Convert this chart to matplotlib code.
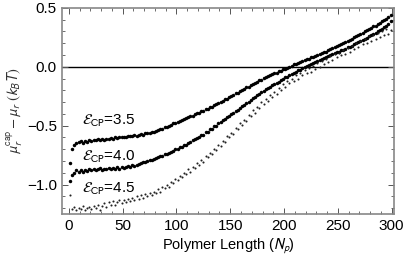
import matplotlib
matplotlib.use("Agg")
import matplotlib.pyplot as plt
from matplotlib.ticker import MultipleLocator

plt.rcParams['font.family'] = ['Liberation Sans', 'DejaVu Sans']
plt.rcParams['mathtext.fontset'] = 'stixsans'

# Polymer length (odd N from 1 to 299)
N = list(range(1, 300, 2))

eps35 = [
    -0.82, -0.70, -0.66, -0.65, -0.64,
    -0.63, -0.645, -0.63, -0.635, -0.625,
    -0.63, -0.62, -0.625, -0.615, -0.62,
    -0.615, -0.62, -0.61, -0.615, -0.605,
    -0.61, -0.60, -0.605, -0.595, -0.60,
    -0.595, -0.60, -0.59, -0.585, -0.59,
    -0.58, -0.585, -0.575, -0.57, -0.575,
    -0.565, -0.56, -0.565, -0.55, -0.555,
    -0.545, -0.54, -0.53, -0.525, -0.515,
    -0.51, -0.50, -0.495, -0.48, -0.48,
    -0.465, -0.46, -0.455, -0.44, -0.435,
    -0.43, -0.42, -0.415, -0.40, -0.395,
    -0.39, -0.375, -0.375, -0.36, -0.355,
    -0.345, -0.34, -0.325, -0.32, -0.305,
    -0.30, -0.29, -0.275, -0.27, -0.255,
    -0.245, -0.24, -0.225, -0.22, -0.205,
    -0.195, -0.19, -0.175, -0.17, -0.155,
    -0.15, -0.135, -0.13, -0.115, -0.11,
    -0.095, -0.09, -0.08, -0.07, -0.065,
    -0.055, -0.05, -0.035, -0.035, -0.02,
    -0.015, -0.01, 0.00, 0.005, 0.02,
    0.02, 0.035, 0.04, 0.05, 0.055,
    0.065, 0.07, 0.08, 0.085, 0.095,
    0.10, 0.11, 0.115, 0.125, 0.13,
    0.14, 0.15, 0.16, 0.165, 0.18,
    0.185, 0.195, 0.20, 0.215, 0.22,
    0.23, 0.24, 0.25, 0.26, 0.27,
    0.28, 0.29, 0.30, 0.31, 0.32,
    0.33, 0.345, 0.35, 0.365, 0.375,
    0.385, 0.395, 0.41, 0.42, 0.44,
]

eps40 = [
    -0.97, -0.92, -0.90, -0.88, -0.895,
    -0.88, -0.89, -0.875, -0.885, -0.87,
    -0.88, -0.865, -0.875, -0.87, -0.86,
    -0.875, -0.865, -0.87, -0.86, -0.87,
    -0.86, -0.865, -0.855, -0.865, -0.85,
    -0.86, -0.85, -0.845, -0.85, -0.835,
    -0.84, -0.83, -0.825, -0.82, -0.81,
    -0.81, -0.80, -0.795, -0.79, -0.78,
    -0.775, -0.77, -0.76, -0.755, -0.74,
    -0.74, -0.73, -0.72, -0.715, -0.70,
    -0.70, -0.685, -0.68, -0.665, -0.66,
    -0.645, -0.64, -0.625, -0.615, -0.605,
    -0.595, -0.58, -0.575, -0.555, -0.55,
    -0.53, -0.525, -0.505, -0.50, -0.48,
    -0.47, -0.455, -0.445, -0.43, -0.42,
    -0.40, -0.395, -0.375, -0.365, -0.35,
    -0.335, -0.325, -0.31, -0.295, -0.285,
    -0.265, -0.26, -0.24, -0.23, -0.215,
    -0.205, -0.19, -0.18, -0.17, -0.155,
    -0.145, -0.135, -0.125, -0.11, -0.105,
    -0.09, -0.085, -0.07, -0.06, -0.055,
    -0.04, -0.03, -0.025, -0.01, -0.005,
    0.01, 0.015, 0.025, 0.03, 0.045,
    0.05, 0.06, 0.065, 0.075, 0.085,
    0.09, 0.10, 0.105, 0.115, 0.125,
    0.13, 0.14, 0.145, 0.155, 0.165,
    0.17, 0.18, 0.19, 0.20, 0.21,
    0.22, 0.225, 0.24, 0.245, 0.26,
    0.27, 0.28, 0.29, 0.30, 0.315,
    0.325, 0.335, 0.35, 0.36, 0.39,
]

eps45 = [
    -1.09, -1.21, -1.19, -1.22, -1.20,
    -1.21, -1.18, -1.22, -1.20, -1.19,
    -1.21, -1.18, -1.20, -1.17, -1.22,
    -1.18, -1.16, -1.19, -1.15, -1.17,
    -1.14, -1.17, -1.15, -1.13, -1.16,
    -1.13, -1.15, -1.12, -1.14, -1.11,
    -1.13, -1.10, -1.12, -1.09, -1.11,
    -1.08, -1.10, -1.07, -1.09, -1.06,
    -1.07, -1.04, -1.06, -1.02, -1.03,
    -1.00, -1.02, -0.98, -0.99, -0.95,
    -0.96, -0.93, -0.94, -0.90, -0.91,
    -0.87, -0.89, -0.85, -0.86, -0.82,
    -0.83, -0.79, -0.81, -0.76, -0.77,
    -0.73, -0.74, -0.70, -0.71, -0.66,
    -0.67, -0.63, -0.64, -0.59, -0.60,
    -0.56, -0.57, -0.52, -0.53, -0.48,
    -0.49, -0.45, -0.46, -0.41, -0.42,
    -0.37, -0.39, -0.34, -0.35, -0.30,
    -0.32, -0.27, -0.29, -0.24, -0.26,
    -0.21, -0.23, -0.18, -0.20, -0.15,
    -0.17, -0.12, -0.14, -0.10, -0.12,
    -0.07, -0.10, -0.05, -0.07, -0.03,
    -0.05, -0.01, -0.04, 0.01, -0.02,
    0.03, 0.00, 0.05, 0.02, 0.07,
    0.04, 0.09, 0.06, 0.11, 0.08,
    0.12, 0.10, 0.14, 0.11, 0.16,
    0.13, 0.18, 0.15, 0.20, 0.17,
    0.22, 0.19, 0.24, 0.20, 0.26,
    0.22, 0.27, 0.24, 0.29, 0.25,
    0.30, 0.27, 0.32, 0.28, 0.31,
]

labels = [r'$\mathcal{E}_{\mathrm{CP}}$=3.5',
          r'$\mathcal{E}_{\mathrm{CP}}$=4.0',
          r'$\mathcal{E}_{\mathrm{CP}}$=4.5']
label_pos = [(12, -0.46), (12, -0.765), (12, -1.035)]

fig = plt.figure(figsize=(4.15, 2.65), dpi=100)
ax = fig.add_axes([0.149, 0.1925, 0.80, 0.7775])

ax.axhline(0, color='black', lw=1.0, zorder=1)
ax.plot(N, eps35, 'o', color='black', ms=2.5, mew=0, zorder=3)
ax.plot(N, eps40, 'o', color='black', ms=2.5, mew=0, zorder=3)
ax.plot(N, eps45, 'o', color='#222222', ms=1.5, mew=0, zorder=3)

for (x, y), t in zip(label_pos, labels):
    ax.text(x, y, t, fontsize=11, va='center', ha='left')

ax.set_xlim(-6.5, 302)
ax.set_ylim(-1.25, 0.5)
ax.xaxis.set_major_locator(MultipleLocator(50))
ax.xaxis.set_minor_locator(MultipleLocator(10))
ax.yaxis.set_major_locator(MultipleLocator(0.5))
ax.yaxis.set_minor_locator(MultipleLocator(0.1))
ax.set_yticks([0.5, 0.0, -0.5, -1.0])
ax.set_yticklabels(['0.5', '0.0', '\u22120.5', '\u22121.0'])
ax.tick_params(which='both', direction='in', top=True, right=True,
               color='#555555', labelsize=11)
ax.tick_params(which='major', length=4, width=0.7)
ax.tick_params(which='minor', length=2, width=0.6)
for s in ax.spines.values():
    s.set_color('#888888')
    s.set_linewidth(1.2)

ax.set_xlabel(r'Polymer Length ($N_p$)', fontsize=10.5, labelpad=2)
ax.set_ylabel(r'$\mu_r^{\mathrm{cap}} - \mu_r\ (k_B T)$', fontsize=10.5, labelpad=2,
              color='#333333')

fig.savefig('out.png', dpi=100)
